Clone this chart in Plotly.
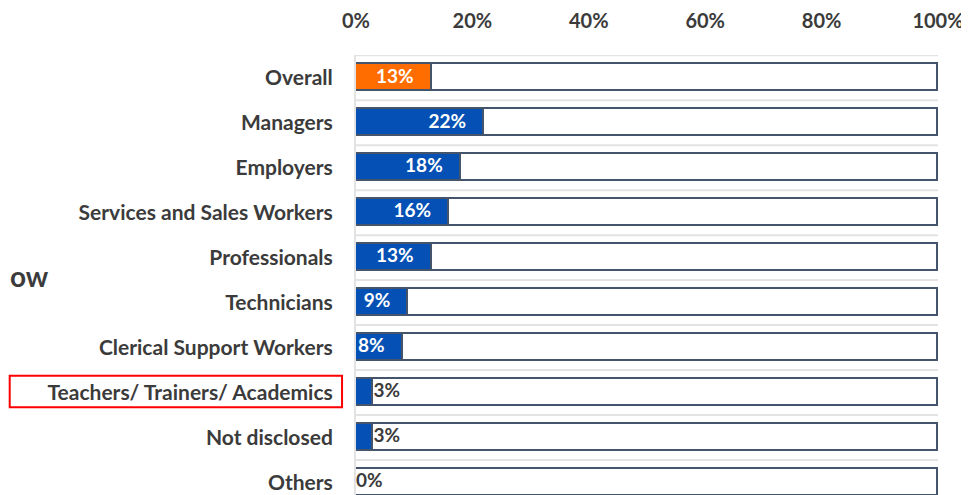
import plotly.graph_objects as go

categories = ['Overall', 'Managers', 'Employers', 'Services and Sales Workers', 'Professionals',
              'Technicians', 'Clerical Support Workers', 'Teachers/ Trainers/ Academics',
              'Not disclosed', 'Others']
values = [13, 22, 18, 16, 13, 9, 8, 3, 3, 0]
x_ticks = [0, 20, 40, 60, 80, 100]
x_tick_labels = ['0%', '20%', '40%', '60%', '80%', '100%']

BLUE = '#0450b4'
ORANGE = '#ff6d00'
EDGE = '#44546a'
TEXT = '#3b3b3b'
GRID = '#e3e3e3'
FONT = 'Lato'

rows = list(range(len(categories)))
bar_colors = [ORANGE if c == 'Overall' else BLUE for c in categories]

fig = go.Figure()

# filled part
fig.add_trace(go.Bar(
    y=rows, x=values, orientation='h', width=0.6,
    marker=dict(color=bar_colors, line=dict(color=EDGE, width=1.8)),
    showlegend=False, hoverinfo='skip'
))
# white remainder up to 100%
fig.add_trace(go.Bar(
    y=rows, x=[100 - v for v in values], orientation='h', width=0.6,
    marker=dict(color='white', line=dict(color=EDGE, width=1.8)),
    showlegend=False, hoverinfo='skip'
))

# value labels: white inside-end for the wide bars, dark just outside for small ones
inside = [v >= 8 for v in values]
fig.add_trace(go.Scatter(
    y=[r for r, k in zip(rows, inside) if k],
    x=[max(v - 3.1, 0.2) for v, k in zip(values, inside) if k],
    text=[f'{v}%' for v, k in zip(values, inside) if k],
    mode='text', textposition='middle left',
    textfont=dict(family=FONT, size=19, color='white', weight='bold'),
    showlegend=False, hoverinfo='skip', cliponaxis=False
))
fig.add_trace(go.Scatter(
    y=[r for r, k in zip(rows, inside) if not k],
    x=[v for v, k in zip(values, inside) if not k],
    text=[f'{v}%' for v, k in zip(values, inside) if not k],
    mode='text', textposition='middle right',
    textfont=dict(family=FONT, size=19, color=TEXT, weight='bold'),
    showlegend=False, hoverinfo='skip', cliponaxis=False
))

# light separators between rows
for r in rows[:-1] + [-1]:
    fig.add_shape(type='line', xref='x', yref='y', x0=0, x1=100, y0=r + 0.5, y1=r + 0.5,
                  line=dict(color=GRID, width=2), layer='below')

# red highlight box round the Teachers label
hi = categories.index('Teachers/ Trainers/ Academics')
fig.add_shape(type='rect', xref='paper', yref='y', x0=-0.595, x1=-0.024,
              y0=hi - 0.37, y1=hi + 0.33, line=dict(color='#ff0000', width=2))

# cut-off side title
fig.add_annotation(text='ow', xref='paper', yref='y', x=-0.598, y=4.4, xanchor='left',
                   showarrow=False, font=dict(family=FONT, size=28, color=TEXT, weight='bold'))

# the page body adds an 8px margin, so the figure is sized to land where the reference does
fig.update_layout(
    width=961, height=487,
    margin=dict(l=348, r=31, t=43, b=0),
    paper_bgcolor='white', plot_bgcolor='white',
    barmode='stack', bargap=0,
    font=dict(family=FONT, color=TEXT),
    xaxis=dict(
        side='top', range=[0, 100], tickvals=x_ticks, ticktext=x_tick_labels,
        showgrid=False, zeroline=False, showline=False,
        ticks='outside', ticklen=0, ticklabelstandoff=18,
        tickfont=dict(family=FONT, size=20, color=TEXT, weight='bold'),
    ),
    yaxis=dict(
        range=[9.28, -0.507], tickvals=rows, ticktext=categories,
        showgrid=False, zeroline=False, showline=True, linecolor=GRID, linewidth=2,
        ticks='', ticklabelstandoff=17,
        tickfont=dict(family=FONT, size=21, color=TEXT, weight='bold'),
    ),
)

fig.write_html('out.html')
